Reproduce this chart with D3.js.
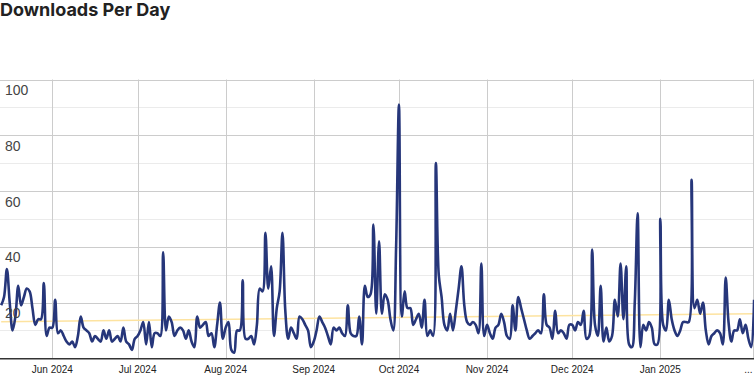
<!DOCTYPE html>
<html>
<head>
<meta charset="utf-8">
<script src="https://cdn.jsdelivr.net/npm/d3@7"></script>
<style>
  html, body { margin: 0; padding: 0; background: #ffffff; }
  #chart-div { width: 754px; height: 377px; }
</style>
</head>
<body>
<div id="chart-div"></div>
<script>
// --- Data ---
const startDate = '2024-05-14';
const downloads = [
    19, 22, 32, 20, 10, 15, 26, 19, 22, 25,
    24, 18, 12, 14, 14, 27, 8, 11, 11, 21,
    9, 10, 8, 6, 5, 6, 4, 8, 15, 11,
    10, 9, 6, 8, 7, 6, 10, 7, 10, 6,
    7, 8, 6, 11, 6, 5, 3, 7, 8, 10,
    13, 5, 13, 4, 9, 9, 8, 38, 10, 15,
    13, 8, 10, 11, 10, 7, 10, 6, 4, 15,
    11, 12, 13, 8, 9, 4, 12, 20, 7, 11,
    13, 3, 2, 10, 10, 28, 7, 7, 8, 5,
    12, 25, 24, 45, 25, 33, 8, 18, 24, 45,
    17, 7, 11, 9, 7, 15, 14, 12, 10, 4,
    6, 10, 15, 13, 11, 8, 5, 11, 10, 11,
    9, 8, 19, 9, 8, 8, 15, 5, 26, 22,
    23, 48, 16, 42, 16, 23, 21, 14, 10, 40,
    91, 15, 24, 18, 18, 12, 14, 16, 11, 21,
    8, 10, 8, 70, 30, 22, 12, 10, 16, 10,
    17, 25, 33, 19, 13, 12, 13, 12, 9, 34,
    8, 12, 9, 7, 11, 12, 16, 13, 8, 7,
    19, 10, 22, 18, 14, 10, 7, 8, 9, 10,
    9, 23, 12, 11, 7, 17, 9, 10, 9, 7,
    12, 12, 10, 13, 12, 17, 7, 8, 39, 12,
    8, 26, 6, 11, 6, 8, 21, 15, 34, 14,
    33, 5, 4, 20, 52, 4, 12, 10, 13, 11,
    5, 5, 50, 12, 10, 21, 14, 10, 8, 10,
    13, 13, 13, 64, 18, 21, 16, 20, 10, 5,
    8, 9, 10, 9, 5, 29, 13, 6, 10, 10,
    14, 9, 12, 7, 4, 21
];
// trend line value at the first and at the last day
const trendValues = [13.1, 16.0];

const yTicks = [20, 40, 60, 80, 100];
const yMinorTicks = [10, 30, 50, 70, 90];
const monthTicks = ['2024-06-01', '2024-07-01', '2024-08-01', '2024-09-01',
                    '2024-10-01', '2024-11-01', '2024-12-01', '2025-01-01', '2025-02-01'];
const monthLabels = ['Jun 2024', 'Jul 2024', 'Aug 2024', 'Sep 2024',
                     'Oct 2024', 'Nov 2024', 'Dec 2024', 'Jan 2025', '...'];

function createLineChart() {
    const plotContainer = document.getElementById('chart-div');
    const width = 754;
    const height = 377;

    const start = new Date(startDate + 'T00:00:00Z');
    const data = downloads.map((v, i) => ({
        date: d3.utcDay.offset(start, i),
        value: v
    }));
    const end = data[data.length - 1].date;

    const svg = d3.select(plotContainer)
        .append('svg')
        .attr('width', width)
        .attr('height', height)
        .style('background-color', '#ffffff');

    // Scales
    const xScale = d3.scaleUtc()
        .domain([start, end])
        .range([1.2, 754.1]);

    const yScale = d3.scaleLinear()
        .domain([0, 100])
        .range([358.3, 79.5]);

    const plotLeft = 0;
    const plotRight = width;

    // Minor horizontal grid
    svg.append('g')
        .selectAll('line')
        .data(yMinorTicks)
        .enter().append('line')
        .attr('x1', plotLeft)
        .attr('x2', plotRight)
        .attr('y1', d => Math.round(yScale(d)) + 0.5)
        .attr('y2', d => Math.round(yScale(d)) + 0.5)
        .style('stroke', '#ebebeb')
        .style('stroke-width', 1);

    // Major horizontal grid
    svg.append('g')
        .selectAll('line')
        .data(yTicks)
        .enter().append('line')
        .attr('x1', plotLeft)
        .attr('x2', plotRight)
        .attr('y1', d => Math.round(yScale(d)) + 0.5)
        .attr('y2', d => Math.round(yScale(d)) + 0.5)
        .style('stroke', '#cccccc')
        .style('stroke-width', 1);

    // Vertical month grid
    const months = monthTicks.map(d => new Date(d + 'T00:00:00Z'));
    svg.append('g')
        .selectAll('line')
        .data(months.filter(d => xScale(d) < plotRight - 8))
        .enter().append('line')
        .attr('x1', d => Math.round(xScale(d)) + 0.5)
        .attr('x2', d => Math.round(xScale(d)) + 0.5)
        .attr('y1', yScale(100))
        .attr('y2', yScale(0))
        .style('stroke', '#cccccc')
        .style('stroke-width', 1);

    // right border of the plot
    svg.append('line')
        .attr('x1', plotRight - 0.5)
        .attr('x2', plotRight - 0.5)
        .attr('y1', yScale(100))
        .attr('y2', yScale(0))
        .style('stroke', '#cccccc');

    // Trend line
    svg.append('path')
        .datum([start, end].map((d, i) => ({ date: d, value: trendValues[i] })))
        .attr('d', d3.line().x(d => xScale(d.date)).y(d => yScale(d.value)))
        .style('fill', 'none')
        .style('stroke', '#fde3a0')
        .style('stroke-width', 1.5);

    // Main line
    const line = d3.line()
        .x(d => xScale(d.date))
        .y(d => yScale(d.value))
        .curve(d3.curveCatmullRom.alpha(0.5));

    svg.append('path')
        .datum(data)
        .attr('d', line)
        .style('fill', 'none')
        .style('stroke', '#26367a')
        .style('stroke-width', 2.6)
        .style('stroke-linejoin', 'round');

    // Baseline axis
    svg.append('line')
        .attr('x1', plotLeft)
        .attr('x2', plotRight)
        .attr('y1', yScale(0) + 0.5)
        .attr('y2', yScale(0) + 0.5)
        .style('stroke', '#333333')
        .style('stroke-width', 1.5);

    // Y labels (inside the plot, below each gridline)
    svg.append('g')
        .selectAll('text')
        .data(yTicks)
        .enter().append('text')
        .attr('x', 5)
        .attr('y', d => yScale(d) + 15.5)
        .style('font-family', '"Liberation Sans", Arial, sans-serif')
        .style('font-size', '14px')
        .style('fill', '#444444')
        .text(d => d);

    // X labels
    svg.append('g')
        .selectAll('text')
        .data(months)
        .enter().append('text')
        .attr('x', d => xScale(d))
        .attr('y', 373)
        .attr('text-anchor', 'middle')
        .style('font-family', '"Liberation Sans", Arial, sans-serif')
        .style('font-size', '10px')
        .style('fill', '#222222')
        .text((d, i) => monthLabels[i]);

    // Title
    svg.append('text')
        .attr('x', 0)
        .attr('y', 16)
        .style('font-family', 'Inter, "Noto Sans", sans-serif')
        .style('font-weight', 700)
        .style('font-size', '18px')
        .style('fill', '#222222')
        .text('Downloads Per Day');
}

createLineChart();
</script>
</body>
</html>
